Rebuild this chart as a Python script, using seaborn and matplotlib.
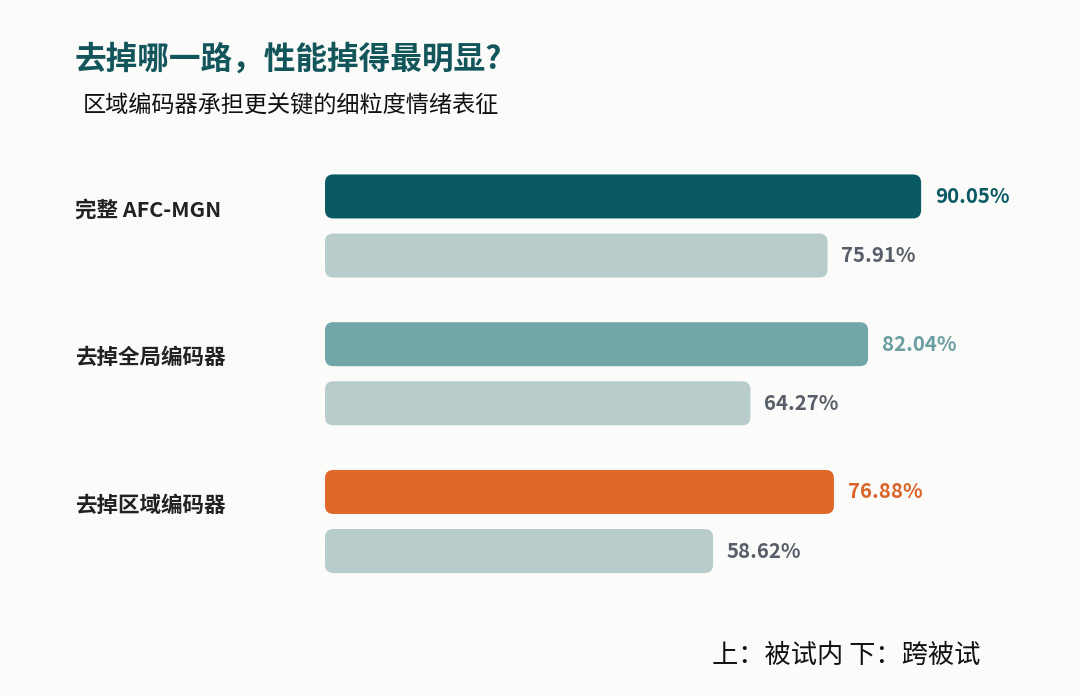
import numpy as np
import pandas as pd
import matplotlib
matplotlib.use("Agg")
import matplotlib.pyplot as plt
import seaborn as sns
from matplotlib.patches import FancyBboxPatch

# 数据
models = ["完整 AFC-MGN", "去掉全局编码器", "去掉区域编码器"]
within_subject = [90.05, 82.04, 76.88]   # 上：被试内
cross_subject = [75.91, 64.27, 58.62]    # 下：跨被试
settings = ["被试内", "跨被试"]

top_colors = ["#0a5a63", "#72a6a9", "#e0682b"]
top_text_colors = ["#0a5a63", "#6a9ea2", "#d9652a"]
bottom_color = "#b8cccc"
bottom_text_color = "#585e69"

df = pd.DataFrame({
    "model": models * 2,
    "acc": within_subject + cross_subject,
    "setting": [settings[0]] * 3 + [settings[1]] * 3,
})

sns.set_theme(style="white")
plt.rcParams['font.family'] = ['Noto Sans CJK SC', 'DejaVu Sans']

W, H = 1080, 695
fig = plt.figure(figsize=(W / 100, H / 100), dpi=100)
fig.patch.set_facecolor("#fbfbf9")
ax = fig.add_axes([0, 0, 1, 1])
ax.set_facecolor("#fbfbf9")

sns.barplot(data=df, x="acc", y="model", hue="setting", orient="h",
            width=0.8, dodge=True, legend=False, ax=ax)

# 像素 -> 数据坐标
x0_px, px_per_pct = 325, 6.62
y0_px, px_per_grp = 226, 147.75
ax.set_xlim(-x0_px / px_per_pct, (W - x0_px) / px_per_pct)
ax.set_ylim((H - y0_px) / px_per_grp, -y0_px / px_per_grp)
ax.axis("off")

bar_h = 44 / px_per_grp
aspect = (1 / px_per_grp) / (1 / px_per_pct)
for k, cont in enumerate(ax.containers):
    for i, p in enumerate(cont.patches):
        w = p.get_width()
        yc = p.get_y() + p.get_height() / 2
        p.set_visible(False)
        color = top_colors[i] if k == 0 else bottom_color
        fb = FancyBboxPatch((0, yc - bar_h / 2), w, bar_h,
                            boxstyle="round,pad=0,rounding_size=1.25",
                            mutation_aspect=aspect, fc=color, ec="none")
        ax.add_patch(fb)
        tc = top_text_colors[i] if k == 0 else bottom_text_color
        ax.text(w + 2.1, yc, f"{w:.2f}%", color=tc, fontsize=14.7,
                fontweight="bold", va="center", ha="left")

for i, m in enumerate(models):
    ax.text(-x0_px / px_per_pct + 75 / px_per_pct, i - 0.11, m,
            fontsize=15.5, fontweight="bold", color="#222222",
            va="center", ha="left")

fig.text(75 / W, 1 - 60 / H, "去掉哪一路，性能掉得最明显?", fontsize=22.8,
         fontweight="bold", color="#12565b", va="center", ha="left")
fig.text(83 / W, 1 - 106 / H, "区域编码器承担更关键的细粒度情绪表征", fontsize=16.7,
         color="#111111", va="center", ha="left")
fig.text(980 / W, 1 - 655 / H, "上：被试内 下：跨被试", fontsize=18.9,
         color="#111111", va="center", ha="right")

fig.savefig("out.png", dpi=100, facecolor=fig.get_facecolor())
